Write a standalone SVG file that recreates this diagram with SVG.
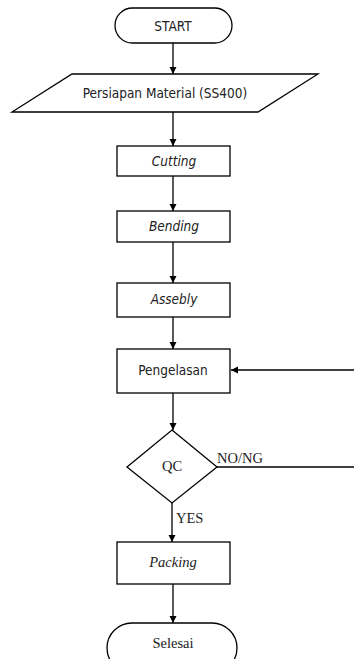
<svg xmlns="http://www.w3.org/2000/svg" width="354" height="659" viewBox="0 0 354 659">
<defs>
<marker id="ah" markerWidth="8" markerHeight="8" refX="7" refY="4" orient="auto" markerUnits="userSpaceOnUse">
<path d="M0,0.5 L7,4 L0,7.5 Z" fill="#000"/>
</marker>
<style>
.s{fill:#fff;stroke:#000;stroke-width:1.3}
.c{fill:none;stroke:#000;stroke-width:1.3;marker-end:url(#ah)}
.l{fill:none;stroke:#000;stroke-width:1.3}
.t{font-family:"DejaVu Sans Condensed","DejaVu Sans",sans-serif;font-size:13.5px;fill:#222;text-anchor:middle}
.f{font-family:"Liberation Serif",serif;font-size:14.5px;fill:#222;text-anchor:middle}
.i{font-style:italic}
</style>
</defs>
<rect width="354" height="659" fill="#fff"/>
<g id="connectors">
<path class="c" d="M173,43 V74"/>
<path class="c" d="M173,112 V146"/>
<path class="c" d="M173,176 V211"/>
<path class="c" d="M173,242 V283"/>
<path class="c" d="M173,317 V349"/>
<path class="c" d="M173,393 V430"/>
<path class="c" d="M172,503 V542"/>
<path class="c" d="M173,584 V623"/>
<path class="l" d="M217,467 H354"/>
<path class="c" d="M354,370 H231"/>
<text class="f" x="217" y="463" style="text-anchor:start">NO/NG</text>
<text class="f" x="176" y="523" style="text-anchor:start">YES</text>
</g>
<g id="start">
<rect class="s" x="115" y="8" width="117" height="35" rx="17.5"/>
<text class="t" x="173" y="31">START</text>
</g>
<g id="persiapan">
<polygon class="s" points="72,74 318,74 258,112 12,112"/>
<text class="t" x="165" y="98">Persiapan Material (SS400)</text>
</g>
<g id="cutting">
<rect class="s" x="117" y="146" width="113" height="30"/>
<text class="t i" x="174" y="166">Cutting</text>
</g>
<g id="bending">
<rect class="s" x="117" y="211" width="113" height="31"/>
<text class="t i" x="174" y="231">Bending</text>
</g>
<g id="assebly">
<rect class="s" x="117" y="283" width="113" height="34"/>
<text class="t i" x="174" y="304">Assebly</text>
</g>
<g id="pengelasan">
<rect class="s" x="117" y="349" width="113" height="44"/>
<text class="t" x="173" y="375">Pengelasan</text>
</g>
<g id="qc">
<polygon class="s" points="172,430 217,467 172,503 127,467"/>
<text class="f" x="172" y="471">QC</text>
</g>
<g id="packing">
<rect class="s" x="117" y="542" width="113" height="42"/>
<text class="f i" x="173" y="567">Packing</text>
</g>
<g id="selesai">
<rect class="s" x="107" y="623" width="130" height="50" rx="25"/>
<text class="f" x="173" y="648">Selesai</text>
</g>
</svg>
